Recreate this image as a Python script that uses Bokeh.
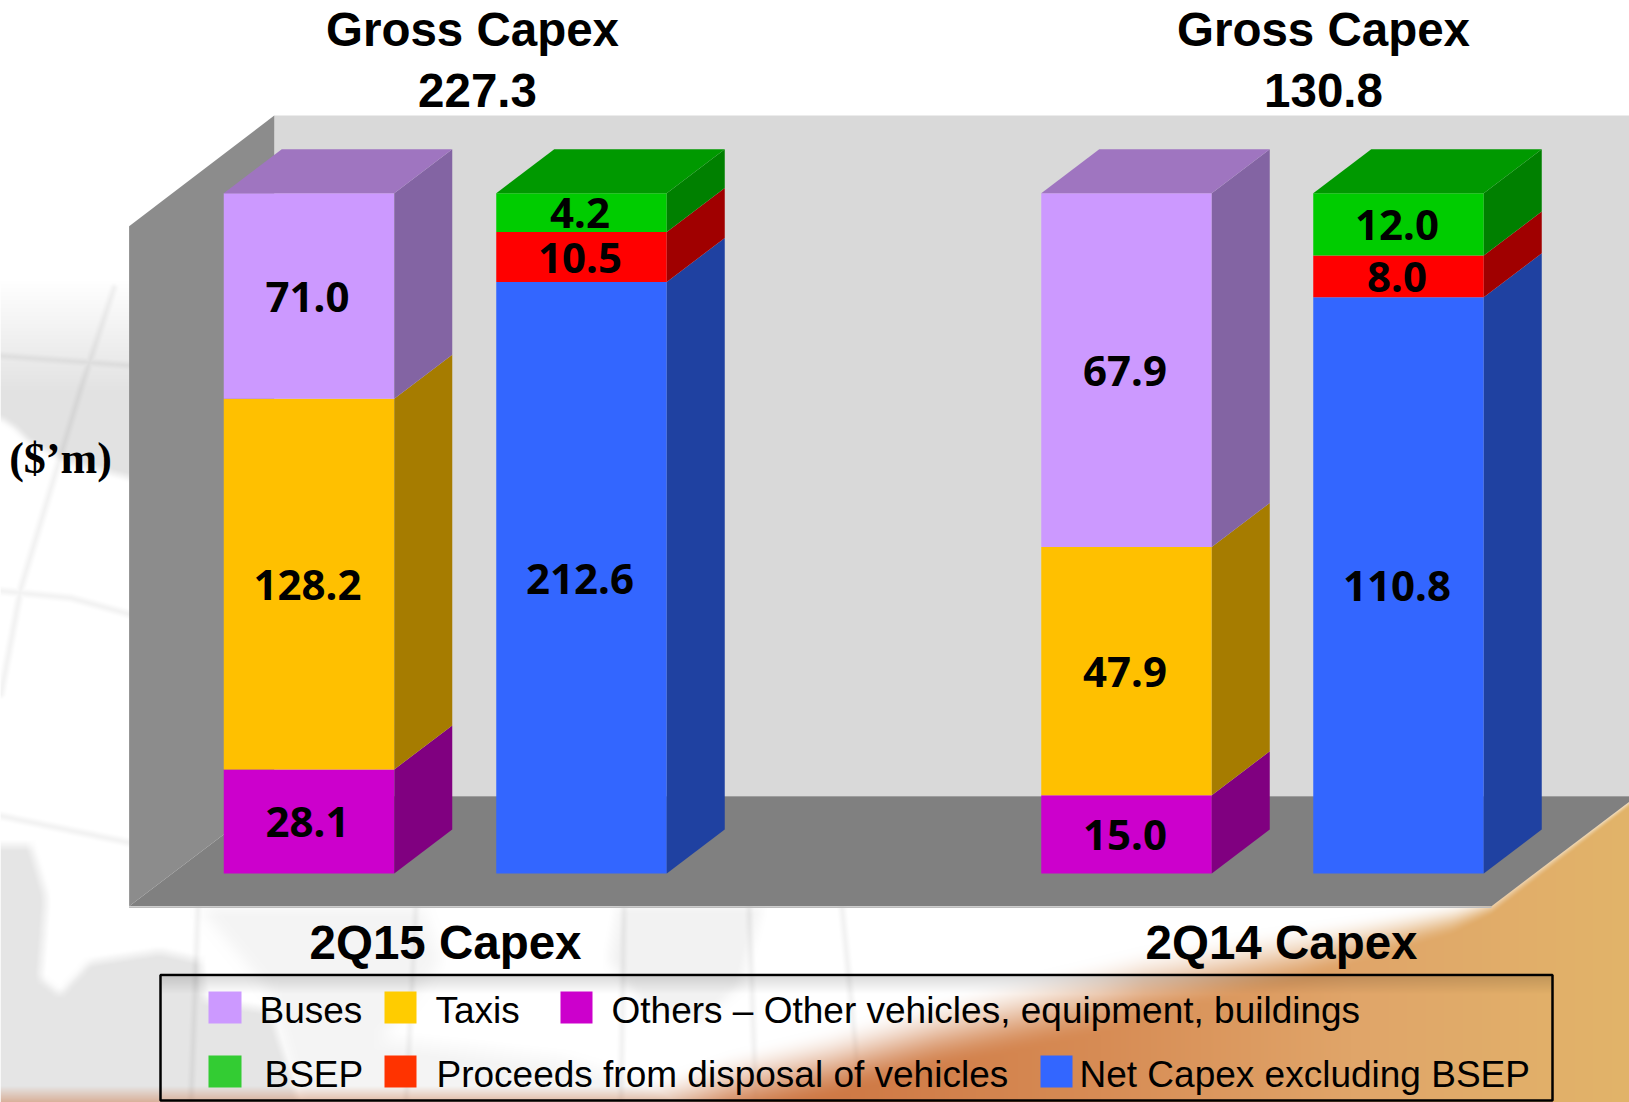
import numpy as np
from bokeh.embed import file_html
from bokeh.resources import INLINE
from bokeh.plotting import figure
from bokeh.models import Range1d
from bokeh.core.properties import value

# ---------- data ----------
periods = ["2Q15 Capex", "2Q14 Capex"]
gross_capex = ["227.3", "130.8"]
gross_title = "Gross Capex"
unit_label = "($\u2019m)"

# printed labels
buses_label = ["71.0", "67.9"]
taxis_label = ["128.2", "47.9"]
others_label = ["28.1", "15.0"]
bsep_label = ["4.2", "12.0"]
proceeds_label = ["10.5", "8.0"]
net_label = ["212.6", "110.8"]

# drawn share of each column (percent of the column)
buses_share = [30.2, 52.0]
taxis_share = [54.5, 36.5]
others_share = [15.3, 11.5]
bsep_share = [5.7, 9.16]
proceeds_share = [7.35, 6.13]
net_share = [86.95, 84.71]

legend_row1 = ["Buses", "Taxis", "Others \u2013 Other vehicles, equipment, buildings"]
legend_row2 = ["BSEP", "Proceeds from disposal of vehicles", "Net Capex excluding BSEP"]

# ---------- layout ----------
W, H = 1629, 1102
BASE_PX, TOP_PX = 873.0, 192.7
PX_PER_PCT = (BASE_PX - TOP_PX) / 100.0


def yv(py):
    return (BASE_PX - py) / PX_PER_PCT


p = figure(width=W, height=H, output_backend="svg", toolbar_location=None,
           x_range=Range1d(0, W), y_range=Range1d(yv(H), yv(0)),
           x_axis_location=None, y_axis_location=None, min_border=0,
           background_fill_color="white", border_fill_color="white", outline_line_color=None)
p.grid.visible = False

# ---------- page background (decorative globe and swoosh) ----------
yy, xx = np.mgrid[0:H, 0:W].astype(float)


def poly_mask(pts):
    mask = np.zeros((H, W), bool)
    pts = np.array(pts, float)
    a, b = pts, np.roll(pts, -1, axis=0)
    for r in range(H):
        y = r + 0.5
        c = (a[:, 1] <= y) != (b[:, 1] <= y)
        if not c.any():
            continue
        xs = np.sort(a[c, 0] + (y - a[c, 1]) * (b[c, 0] - a[c, 0]) / (b[c, 1] - a[c, 1]))
        for i in range(0, len(xs) - 1, 2):
            mask[r, max(int(xs[i]), 0):max(int(xs[i + 1]), 0)] = True
    return mask


def blur(a, k):
    for axis in (0, 1):
        kern = np.ones(k) / k
        a = np.apply_along_axis(lambda m: np.convolve(np.pad(m, k, mode="edge"), kern, "same")[k:-k], axis, a)
    return a


def stroke(pts, width=5):
    mask = np.zeros((H, W))
    for (x0, y0), (x1, y1) in zip(pts[:-1], pts[1:]):
        dx, dy = x1 - x0, y1 - y0
        t = np.clip(((xx - x0) * dx + (yy - y0) * dy) / (dx * dx + dy * dy), 0, 1)
        d = np.hypot(xx - x0 - t * dx, yy - y0 - t * dy)
        mask = np.maximum(mask, np.clip(1 - d / width, 0, 1))
    return mask


gray = np.zeros((H, W))
# upper-left land mass, fading in from above
upper = poly_mask([(0, 275), (140, 265), (140, 480), (65, 460), (28, 440), (15, 427), (0, 417)]).astype(float)
gray = np.maximum(gray, blur(upper, 9) * np.clip((yy - 280) / 110, 0, 1) * 0.11)
# lower-left land masses
low = poly_mask([(0, 845), (30, 845), (35, 860), (46, 897), (40, 978), (60, 994), (90, 962), (160, 951),
                 (200, 960), (205, 1000), (270, 1010), (300, 1102), (0, 1102)]).astype(float)
gray = np.maximum(gray, blur(low, 11) * 0.10)
mid = poly_mask([(620, 906), (760, 906), (740, 985), (700, 1020), (640, 1000), (610, 960)]).astype(float)
gray = np.maximum(gray, blur(mid, 15) * 0.05)
mid2 = poly_mask([(200, 906), (420, 906), (440, 960), (380, 1040), (560, 1060), (700, 1102), (300, 1102), (270, 990)]).astype(float)
gray = np.maximum(gray, blur(mid2, 21) * 0.04)
# meridians and parallels
lines = np.zeros((H, W))
for pts in ([(113, 287), (80, 387), (50, 487), (20, 587), (0, 693)],
            [(0, 590), (70, 597), (135, 615)],
            [(0, 815), (135, 843)],
            [(0, 355), (135, 365)],
            [(197, 906), (190, 1102)], [(415, 906), (405, 1102)], [(623, 906), (620, 1102)],
            [(748, 906), (755, 1102)], [(841, 906), (860, 1102)]):
    lines = np.maximum(lines, stroke(pts))
gray = np.clip(gray + lines * 0.05, 0, 1)
rgb = np.stack([1 - gray] * 3, axis=-1)

# legend-top soft shadow
shadow = ((xx > 160) & (xx < 1552) & (yy > 975)) * np.clip(1 - (yy - 975) / 18, 0, 1) * 0.14

# swoosh
edge_x = [0, 603, 727, 831, 935, 1039, 1143, 1247, 1350, 1455, 1491, 1629, 1640]
edge_y = [1130, 1092, 1050, 1025, 995, 970, 945, 930, 915, 900, 893, 796, 788]
soft_x = [0, 700, 1100, 1300, 1450, 1491, 1629]
soft_w = [50, 70, 80, 60, 35, 22, 10]
col_x = [600, 850, 1100, 1350, 1629]
col_r = [203, 207, 215, 224, 226]
col_g = [118, 122, 140, 165, 180]
col_b = [70, 70, 85, 105, 105]
edge = np.interp(xx, edge_x, edge_y)
soft = np.interp(xx, soft_x, soft_w)
t = np.clip((yy - edge) / soft, 0, 1)
alpha = t * t * (3 - 2 * t)
band = np.clip((yy - 1085) / 17, 0, 1) * 0.5 * (xx < 700)
alpha = np.maximum(alpha, band)
orange = np.stack([np.interp(xx, col_x, col_r), np.interp(xx, col_x, col_g), np.interp(xx, col_x, col_b)], axis=-1) / 255
rgb = rgb * (1 - alpha[..., None]) + orange * alpha[..., None]
rgb = rgb * (1 - shadow[..., None])

img = np.zeros((H, W), dtype=np.uint32)
view = img.view(dtype=np.uint8).reshape((H, W, 4))
view[..., :3] = np.clip(rgb * 255, 0, 255).astype(np.uint8)
view[..., 3] = 255
p.image_rgba(image=[img[::-1]], x=0, y=yv(H), dw=W, dh=H / PX_PER_PCT)

# ---------- chart box ----------
WALL_L, WALL_R, FRONT_Y, BACK_Y, WALL_TOP, WALL_FRONT_TOP = 128.6, 273.8, 905.7, 795.7, 115.0, 225.7
p.patch([WALL_R, 1660, 1660, WALL_R], [yv(WALL_TOP), yv(WALL_TOP), yv(BACK_Y), yv(BACK_Y)],
        fill_color="#D9D9D9", line_color=None)
p.patch([WALL_L, WALL_R, WALL_R, WALL_L], [yv(WALL_FRONT_TOP), yv(WALL_TOP), yv(BACK_Y), yv(FRONT_Y)],
        fill_color="#8C8C8C", line_color=None)
p.patch([WALL_L, WALL_R, 1636, 1491], [yv(FRONT_Y), yv(BACK_Y), yv(BACK_Y), yv(FRONT_Y)],
        fill_color="#808080", line_color=None)
p.line([WALL_L, 1491], [yv(FRONT_Y + 1), yv(FRONT_Y + 1)], line_color="#BDBDBD", line_width=1.5)

# ---------- columns ----------
BAR_W, DX, DY = 170.5, 58.0, 44.0 / PX_PER_PCT
centers_left = [308.5, 1126.0]
centers_right = [581.0, 1398.0]
LABEL_FONT = value("Noto Sans")
LABEL_SHIFT = 1.5  # px left of the column centre


def column(cx, parts):
    """parts: bottom-to-top list of (share, label, front, side)."""
    x0, x1 = cx - BAR_W / 2, cx + BAR_W / 2
    b = 0.0
    for share, label, front, side in parts:
        t = b + share
        p.vbar(x=[cx], bottom=[b], top=[t], width=BAR_W, fill_color=front, line_color=None)
        p.patch([x1, x1 + DX, x1 + DX, x1], [b, b + DY, t + DY, t], fill_color=side, line_color=None)
        p.text(x=[cx - LABEL_SHIFT], y=[(b + t) / 2 - 0.12], text=[label], text_font=LABEL_FONT,
               text_font_style="bold", text_font_size="42px", text_align="center",
               text_baseline="middle", text_color="black")
        b = t
    return x0, x1, b


TOP_COLOURS = ["#9F75C0", "#009900"]
for i in range(2):
    x0, x1, t = column(centers_left[i], [(others_share[i], others_label[i], "#CC00CC", "#800080"),
                                         (taxis_share[i], taxis_label[i], "#FFC000", "#A67C00"),
                                         (buses_share[i], buses_label[i], "#CC99FF", "#8364A3")])
    p.patch([x0, x0 + DX, x1 + DX, x1], [t, t + DY, t + DY, t], fill_color=TOP_COLOURS[0], line_color=None)
    x0, x1, t = column(centers_right[i], [(net_share[i], net_label[i], "#3366FF", "#1F41A1"),
                                          (proceeds_share[i], proceeds_label[i], "#FF0000", "#A00000"),
                                          (bsep_share[i], bsep_label[i], "#00CC00", "#008000")])
    p.patch([x0, x0 + DX, x1 + DX, x1], [t, t + DY, t + DY, t], fill_color=TOP_COLOURS[1], line_color=None)

# ---------- titles ----------
TITLE_FONT = value("Liberation Sans")


def bold(x, py, s, size="47.5px", font=TITLE_FONT):
    p.text(x=[x], y=[yv(py)], text=[s], text_font=font, text_font_style="bold", text_font_size=size,
           text_align="center", text_baseline="middle", text_color="black")


for cx, cv, cp, g, name in zip([472, 1323], [477, 1323], [445, 1281], gross_capex, periods):
    bold(cx, 28.5, gross_title)
    bold(cv, 89.5, g)
    bold(cp, 942, name)
bold(60, 458, unit_label, size="44px", font=value("Liberation Serif"))

# ---------- legend ----------
p.quad(left=[160], right=[1552], top=[yv(974.5)], bottom=[yv(1100)], fill_color=None,
       line_color="black", line_width=2.5)
row1_sw = [(208, 241, "#CC99FF"), (384, 416, "#FFCC00"), (560, 592, "#CC00CC")]
row2_sw = [(208, 241, "#33CC33"), (384, 416, "#FF3300"), (1040, 1072, "#3366FF")]
row1_tx = [259, 435, 611]
row2_tx = [264, 436, 1079]
for sw, tx, names, top, bottom, mid_y in ((row1_sw, row1_tx, legend_row1, 991, 1023, 1010),
                                          (row2_sw, row2_tx, legend_row2, 1055, 1087, 1074)):
    for (l, r, c), x, s in zip(sw, tx, names):
        p.quad(left=[l], right=[r], top=[yv(top)], bottom=[yv(bottom)], fill_color=c, line_color=None)
        p.text(x=[x], y=[yv(mid_y)], text=[s], text_font=TITLE_FONT, text_font_size="37px",
               text_align="left", text_baseline="middle", text_color="black")

open("out.html", "w").write(file_html(p, INLINE))
